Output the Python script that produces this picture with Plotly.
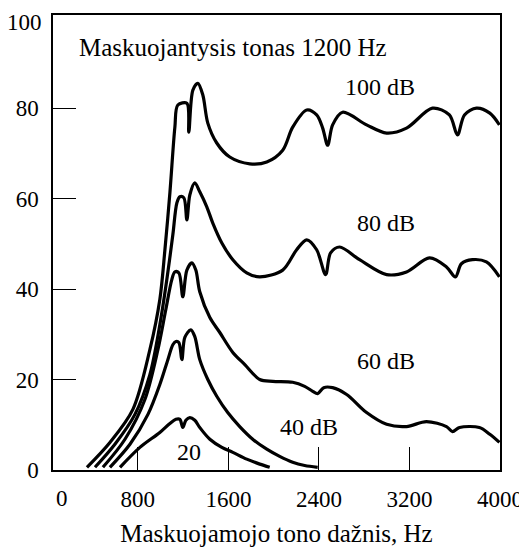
import plotly.graph_objects as go

# Masking curves (masker tone 1200 Hz)
x_100 = [350, 553, 756, 906, 994, 1039, 1083, 1127, 1153, 1233, 1250, 1286, 1330, 1374, 1418, 1497, 1612, 1789,
         1939, 2080, 2168, 2292, 2380, 2433, 2477, 2521, 2609, 2821, 2998, 3174, 3403, 3553, 3624, 3686, 3792, 3910, 3995]
y_100 = [0.6, 6.1, 13.4, 26.6, 37.7, 48.7, 61.3, 75.8, 80.7, 81.1, 74.7, 84.0, 85.5, 82.9, 76.7, 72.3, 69.2, 67.7,
         68.1, 70.7, 75.8, 79.6, 78.5, 75.6, 71.8, 76.3, 79.1, 76.3, 74.5, 75.6, 80.0, 78.5, 74.1, 78.5, 80.0, 78.9, 76.3]

x_80 = [421, 597, 774, 906, 994, 1056, 1109, 1145, 1171, 1206, 1233, 1259, 1303, 1347, 1409, 1462, 1542, 1639, 1762,
        1877, 2080, 2203, 2292, 2380, 2459, 2503, 2583, 2759, 2998, 3174, 3377, 3527, 3606, 3659, 3756, 3880, 3995]
y_80 = [0.6, 5.7, 12.3, 21.1, 32.1, 42.1, 52.0, 59.1, 60.4, 60.2, 55.3, 60.8, 63.5, 61.5, 58.2, 54.6, 50.2, 46.5, 43.6,
        42.7, 44.2, 48.7, 50.9, 48.7, 43.2, 48.0, 49.3, 46.5, 43.2, 43.8, 46.9, 44.9, 42.7, 45.6, 46.5, 46.0, 42.7]

x_60 = [491, 686, 862, 977, 1047, 1100, 1127, 1162, 1197, 1233, 1277, 1312, 1347, 1436, 1524, 1639, 1745, 1877, 1992,
        2168, 2274, 2345, 2389, 2442, 2521, 2645, 2821, 2998, 3174, 3350, 3527, 3580, 3642, 3818, 3910, 3995]
y_60 = [0.6, 6.8, 15.6, 26.6, 35.5, 42.1, 43.8, 43.6, 38.3, 44.2, 45.8, 44.2, 39.4, 33.7, 30.4, 26.0, 23.3, 20.0, 19.6,
        19.4, 18.5, 17.4, 16.9, 18.2, 18.2, 16.7, 12.7, 10.1, 9.6, 10.7, 9.6, 8.5, 9.4, 9.4, 7.9, 6.1]

x_40 = [553, 730, 889, 994, 1065, 1109, 1136, 1162, 1189, 1215, 1268, 1303, 1347, 1418, 1497, 1594, 1700, 1815, 1939,
        2053, 2168, 2274, 2389]
y_40 = [0.6, 5.7, 12.3, 18.9, 24.4, 27.7, 28.4, 28.2, 24.4, 29.3, 31.0, 29.5, 24.4, 20.0, 16.3, 12.7, 9.6, 6.8, 4.6,
        3.0, 1.7, 1.0, 0.6]

x_20 = [642, 818, 994, 1083, 1136, 1171, 1197, 1224, 1259, 1303, 1347, 1436, 1542, 1639, 1762, 1877, 1965]
y_20 = [0.6, 5.0, 8.3, 10.3, 11.2, 11.2, 9.4, 11.0, 11.6, 11.0, 9.4, 6.8, 5.0, 3.9, 2.4, 1.3, 0.6]

curve_names = ["100 dB", "80 dB", "60 dB", "40 dB", "20"]
label_x = [2936, 2989, 2989, 2309, 1250]
label_y = [84.6, 54.6, 24.0, 9.6, 3.9]

x_ticks = [800, 1600, 2400, 3200, 4000]
x_ticktext = ["800", "1600", "2400", "3200", "4000"]
y_ticks = [0, 20, 40, 60, 80]
y_top = 100

FONT = "Times New Roman, Liberation Serif, DejaVu Serif, serif"
FS = 24

fig = go.Figure()
for xs, ys, nm in zip([x_100, x_80, x_60, x_40, x_20], [y_100, y_80, y_60, y_40, y_20], curve_names):
    fig.add_trace(go.Scatter(x=xs, y=ys, mode="lines", name=nm,
                             line=dict(color="black", width=3.2, shape="spline", smoothing=0.9),
                             showlegend=False, hoverinfo="skip"))

for nm, lx, ly in zip(curve_names, label_x, label_y):
    fig.add_annotation(x=lx, y=ly, text=nm, showarrow=False,
                       font=dict(family=FONT, size=FS, color="black"))

fig.add_annotation(x=260, y=93.5, text="Maskuojantysis tonas 1200 Hz", showarrow=False,
                   xanchor="left", font=dict(family=FONT, size=25, color="black"))
# the "0" label of the frequency axis
fig.add_annotation(x=130, y=0, yref="y", text="0", showarrow=False, yanchor="top", yshift=-14,
                   font=dict(family=FONT, size=23, color="black"))
# the top "100" label of the level axis (sits slightly below the frame top)
fig.add_annotation(x=0, xref="paper", y=y_top, yref="y", text=str(y_top), showarrow=False,
                   xanchor="right", xshift=-9, yshift=-5,
                   font=dict(family=FONT, size=23, color="black"))

# page has an 8 px body margin: figure is sized/placed to compensate
fig.update_layout(
    width=519, height=539,
    margin=dict(l=45, r=27, t=7, b=77),
    paper_bgcolor="white", plot_bgcolor="white",
    font=dict(family=FONT, size=FS, color="black"),
    xaxis=dict(range=[50, 4000], tickvals=x_ticks, ticktext=x_ticktext, automargin=False,
               ticks="inside", ticklen=23, tickwidth=1.2, tickcolor="black",
               tickfont=dict(family=FONT, size=23), ticklabelstandoff=8, ticklabeloverflow="allow",
               showline=True, linecolor="black", linewidth=1.5, mirror=True,
               showgrid=False, zeroline=False,
               title=dict(text="Maskuojamojo tono dažnis, Hz", standoff=20,
                          font=dict(family=FONT, size=25))),
    yaxis=dict(range=[0, 100.6], tickvals=y_ticks, automargin=False,
               ticks="inside", ticklen=23, tickwidth=1.2, tickcolor="black",
               tickfont=dict(family=FONT, size=23), ticklabelstandoff=8, ticklabeloverflow="allow",
               showline=True, linecolor="black", linewidth=1.5, mirror=True,
               showgrid=False, zeroline=False),
)

fig.write_html("out.html")
